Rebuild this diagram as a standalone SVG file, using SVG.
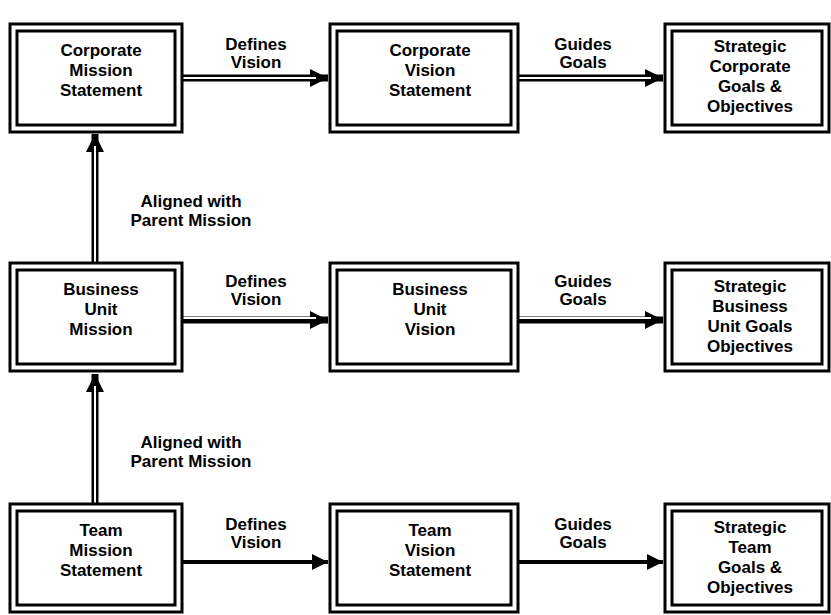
<svg xmlns="http://www.w3.org/2000/svg" width="831" height="615" viewBox="0 0 831 615">
<style>
.box{fill:#fff;stroke:#000;stroke-width:3}
.inner{fill:none;stroke:#000;stroke-width:3}
.t{font-family:"Liberation Sans",Arial,sans-serif;font-size:17px;font-weight:bold;fill:#000;text-anchor:middle}
.el{font-family:"Liberation Sans",Arial,sans-serif;font-size:17px;font-weight:bold;fill:#000;text-anchor:middle}
.line{fill:none;stroke:#000;stroke-width:7}
.thin{fill:none;stroke:#000;stroke-width:4}
.gap{fill:none;stroke:#fff;stroke-width:2}
</style>
<defs>
<marker id="ah" viewBox="0 0 10 10" refX="10" refY="5" markerWidth="2.6" markerHeight="2.6" orient="auto" markerUnits="strokeWidth">
<path d="M0,0 L10,5 L0,10 z" fill="#000"/>
</marker>
<marker id="ah2" viewBox="0 0 10 10" refX="10" refY="5" markerWidth="4" markerHeight="4" orient="auto" markerUnits="strokeWidth">
<path d="M0,0 L10,5 L0,10 z" fill="#000"/>
</marker>
</defs>
<rect width="831" height="615" fill="#fff"/>
<g id="connectors">
<path class="line" d="M182,78 H328" marker-end="url(#ah)"/>
<path class="gap" d="M182,78 H316"/>
<path class="line" d="M518,78 H663" marker-end="url(#ah)"/>
<path class="gap" d="M518,78 H651"/>
<path class="line" d="M182,320 H328" marker-end="url(#ah)"/>
<path class="gap" d="M182,318 H316"/>
<path class="line" d="M518,320 H663" marker-end="url(#ah)"/>
<path class="gap" d="M518,318 H651"/>
<path class="thin" d="M182,562 H328" marker-end="url(#ah2)"/>
<path class="thin" d="M518,562 H663" marker-end="url(#ah2)"/>
<path class="line" d="M95,262 V134" marker-end="url(#ah)"/>
<path class="gap" d="M95,262 V146"/>
<path class="line" d="M95,503 V374" marker-end="url(#ah)"/>
<path class="gap" d="M95,503 V386"/>
<text class="el" x="256" y="50">Defines</text>
<text class="el" x="256" y="68">Vision</text>
<text class="el" x="583" y="50">Guides</text>
<text class="el" x="583" y="68">Goals</text>
<text class="el" x="256" y="287">Defines</text>
<text class="el" x="256" y="305">Vision</text>
<text class="el" x="583" y="287">Guides</text>
<text class="el" x="583" y="305">Goals</text>
<text class="el" x="256" y="530">Defines</text>
<text class="el" x="256" y="548">Vision</text>
<text class="el" x="583" y="530">Guides</text>
<text class="el" x="583" y="548">Goals</text>
<text class="el" x="191" y="207">Aligned with</text>
<text class="el" x="191" y="226">Parent Mission</text>
<text class="el" x="191" y="448">Aligned with</text>
<text class="el" x="191" y="467">Parent Mission</text>
</g>
<g id="n1">
<rect class="box" x="10" y="24" width="172" height="108"/>
<rect class="inner" x="17" y="31" width="158" height="94"/>
<text class="t" x="101" y="56">Corporate</text>
<text class="t" x="101" y="76">Mission</text>
<text class="t" x="101" y="96">Statement</text>
</g>
<g id="n2">
<rect class="box" x="330" y="24" width="188" height="108"/>
<rect class="inner" x="337" y="31" width="174" height="94"/>
<text class="t" x="430" y="56">Corporate</text>
<text class="t" x="430" y="76">Vision</text>
<text class="t" x="430" y="96">Statement</text>
</g>
<g id="n3">
<rect class="box" x="665" y="24" width="164" height="108"/>
<rect class="inner" x="672" y="31" width="150" height="94"/>
<text class="t" x="750" y="52">Strategic</text>
<text class="t" x="750" y="72">Corporate</text>
<text class="t" x="750" y="92">Goals &amp;</text>
<text class="t" x="750" y="112">Objectives</text>
</g>
<g id="n4">
<rect class="box" x="10" y="263" width="172" height="108"/>
<rect class="inner" x="17" y="270" width="158" height="94"/>
<text class="t" x="101" y="295">Business</text>
<text class="t" x="101" y="315">Unit</text>
<text class="t" x="101" y="335">Mission</text>
</g>
<g id="n5">
<rect class="box" x="330" y="263" width="188" height="108"/>
<rect class="inner" x="337" y="270" width="174" height="94"/>
<text class="t" x="430" y="295">Business</text>
<text class="t" x="430" y="315">Unit</text>
<text class="t" x="430" y="335">Vision</text>
</g>
<g id="n6">
<rect class="box" x="665" y="263" width="164" height="108"/>
<rect class="inner" x="672" y="270" width="150" height="94"/>
<text class="t" x="750" y="292">Strategic</text>
<text class="t" x="750" y="312">Business</text>
<text class="t" x="750" y="332">Unit Goals</text>
<text class="t" x="750" y="352">Objectives</text>
</g>
<g id="n7">
<rect class="box" x="10" y="504" width="172" height="108"/>
<rect class="inner" x="17" y="511" width="158" height="94"/>
<text class="t" x="101" y="536">Team</text>
<text class="t" x="101" y="556">Mission</text>
<text class="t" x="101" y="576">Statement</text>
</g>
<g id="n8">
<rect class="box" x="330" y="504" width="188" height="108"/>
<rect class="inner" x="337" y="511" width="174" height="94"/>
<text class="t" x="430" y="536">Team</text>
<text class="t" x="430" y="556">Vision</text>
<text class="t" x="430" y="576">Statement</text>
</g>
<g id="n9">
<rect class="box" x="665" y="504" width="164" height="108"/>
<rect class="inner" x="672" y="511" width="150" height="94"/>
<text class="t" x="750" y="533">Strategic</text>
<text class="t" x="750" y="553">Team</text>
<text class="t" x="750" y="573">Goals &amp;</text>
<text class="t" x="750" y="593">Objectives</text>
</g>
</svg>
